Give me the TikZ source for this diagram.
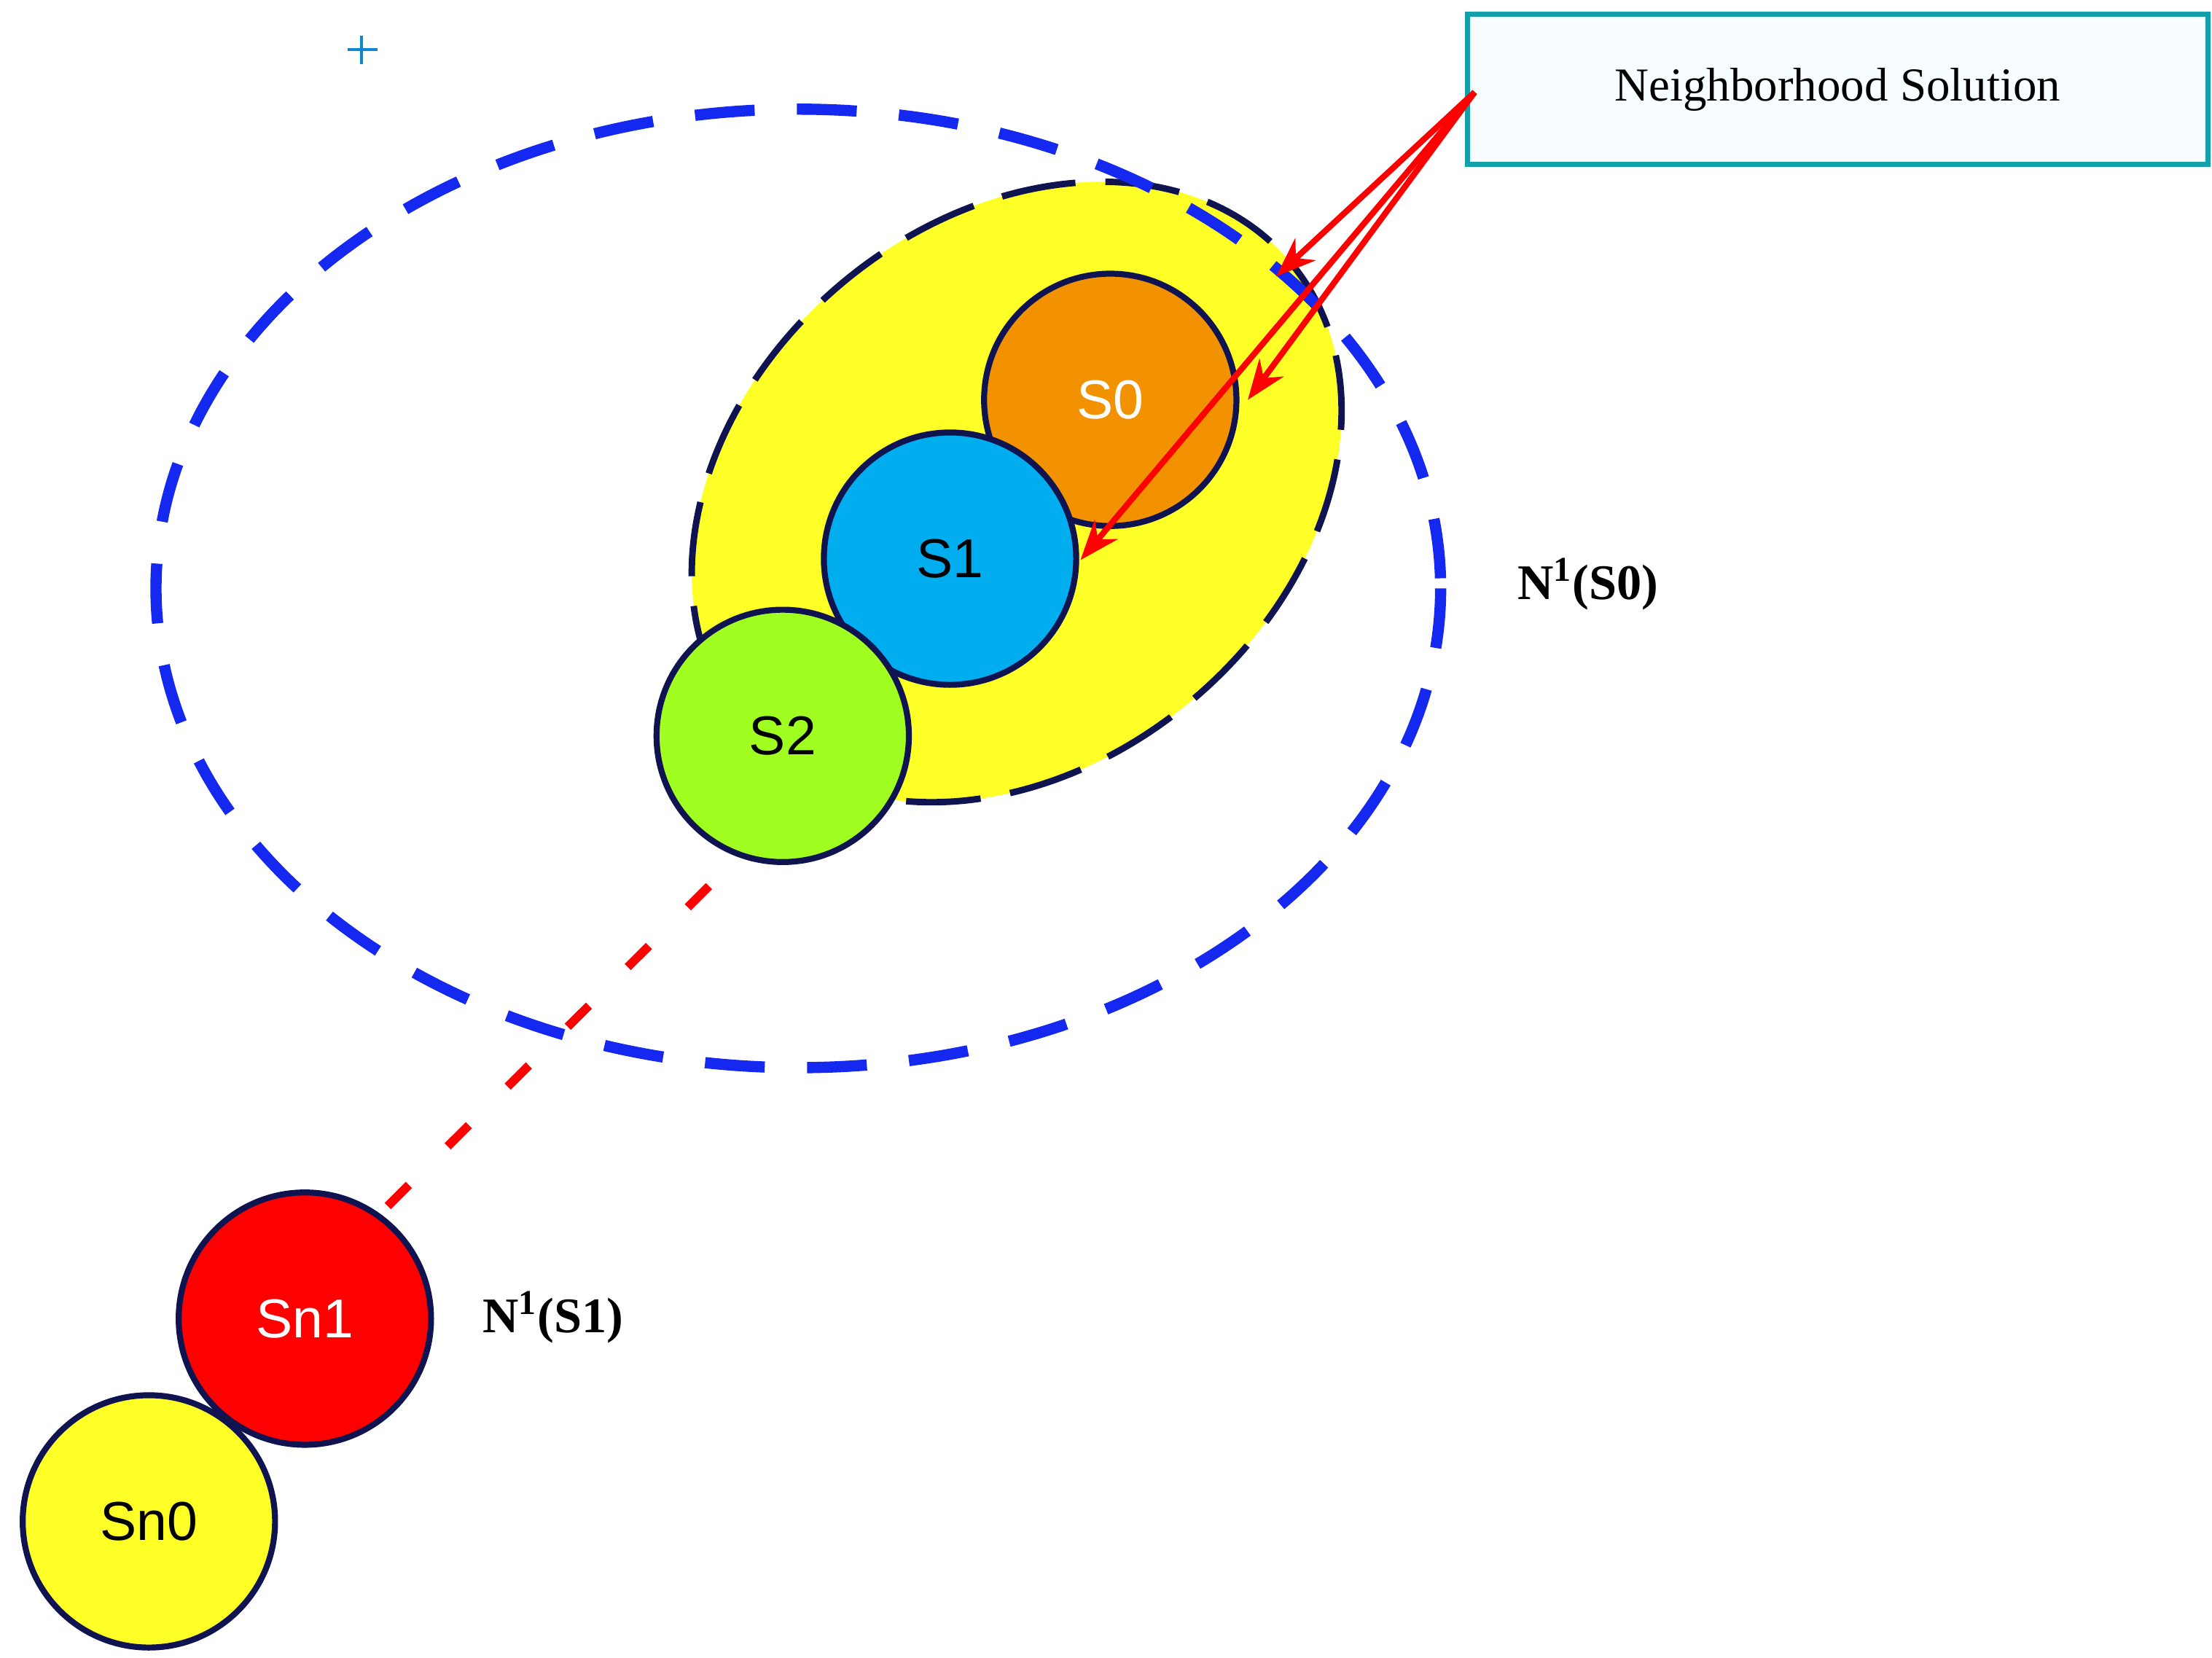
\documentclass[tikz,border=0pt]{standalone}
\usepackage{fontspec}
\setmainfont{Liberation Serif}
\newfontfamily\sans{Liberation Sans}
\usetikzlibrary{arrows.meta}
\definecolor{navy}{RGB}{15,20,80}
\definecolor{bdash}{RGB}{20,40,240}
\definecolor{teal2}{RGB}{20,160,170}
\definecolor{orng}{RGB}{243,146,0}
\definecolor{grn}{RGB}{160,255,32}
\definecolor{ylw}{RGB}{255,255,40}
\begin{document}
\begin{tikzpicture}[x=0.02cm,y=-0.02cm,
  sol/.style={circle,draw=navy,line width=2.4pt,minimum size=3.56cm,inner sep=0pt,font=\sans\fontsize{22}{22}\selectfont},
  lab/.style={font=\bfseries\fontsize{20}{20}\selectfont},
  arr/.style={red,line width=2.4pt,-{Stealth[length=16pt,width=12pt]}}]
\useasboundingbox (0,0) rectangle (1560,1169);
\fill[ylw,draw=navy,line width=2.6pt,dash pattern=on 30pt off 12pt,rotate around={40:(717,347)}] (717,347) ellipse [x radius=252,y radius=192];
\draw[bdash,line width=4.5pt,dash pattern=on 24pt off 17pt] (563,415) ellipse [x radius=453,y radius=338];
\node[sol,fill=orng,text=white] (s0) at (783,282) {S0};
\node[sol,fill=cyan] (s1) at (670,394) {S1};
\node[sol,fill=grn] (s2) at (552,519) {S2};
\node[sol,fill=red,text=white] (sn1) at (215,930) {Sn1};
\node[sol,fill=ylw] (sn0) at (105,1073) {Sn0};
\coordinate (d1) at (500,625);
\coordinate (d2) at (268,856);
\draw[red,line width=3.5pt,dash pattern=on 12pt off 22pt] (d1) -- (d2);
\node[draw=teal2,line width=2pt,fill=cyan!3,minimum width=10.44cm,minimum height=2.12cm,font=\fontsize{19}{19}\selectfont] (box) at (1296,63) {Neighborhood Solution};
\coordinate (src) at (1040,65);
\coordinate (t1) at (900,195);
\coordinate (t2) at (880,282);
\coordinate (t3) at (762,395);
\draw[arr] (src) -- (t1);
\draw[arr] (src) -- (t2);
\draw[arr] (src) -- (t3);
\node[lab] (n0) at (1120,412) {N\textsuperscript{1}(S0)};
\node[lab] (n1) at (390,929) {N\textsuperscript{1}(S1)};
\draw[cyan!70!blue,line width=1.2pt] (245,35) -- (266,35) (255,25) -- (255,45);
\end{tikzpicture}
\end{document}
